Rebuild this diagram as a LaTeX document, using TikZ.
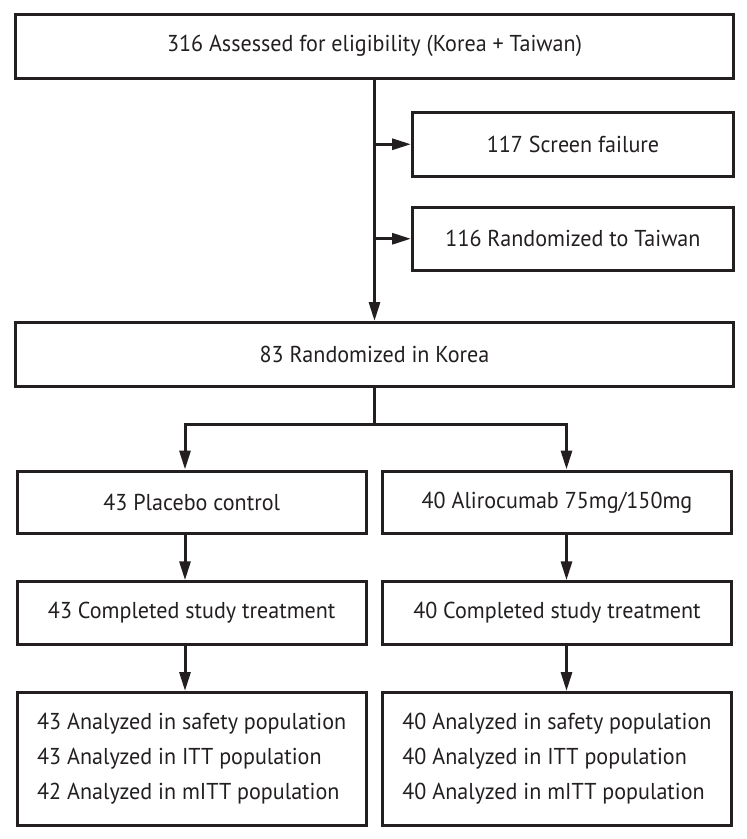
\documentclass[tikz,border=0pt]{standalone}
\usepackage{fontspec}
\setmainfont{PT Sans}[FakeStretch=0.96]
\usetikzlibrary{arrows.meta}
\definecolor{ink}{HTML}{231F20}
\begin{document}
\begin{tikzpicture}[x=1pt,y=-1pt,
  box/.style={draw=ink, line width=3pt, inner sep=0pt, text=ink,
    font=\fontsize{23}{35}\selectfont},
  arr/.style={draw=ink, line width=3pt, -{Triangle[length=19pt,width=11pt]}},
  ln/.style={draw=ink, line width=3pt}]
\useasboundingbox (0,0) rectangle (747,839);
\node[box, minimum width=718pt, minimum height=63.5pt] (top) at (374.5,46.25)
  {316 Assessed for eligibility (Korea + Taiwan)};
\node[box, minimum width=321pt, minimum height=63.5pt] (scr) at (573,144.25)
  {117 Screen failure};
\node[box, minimum width=321pt, minimum height=63.5pt] (tw) at (573,238.75)
  {116 Randomized to Taiwan};
\node[box, minimum width=718pt, minimum height=63.5pt] (kor) at (374.5,354.25)
  {83 Randomized in Korea};
\node[box, minimum width=349.5pt, minimum height=62.5pt] (plac) at (191.75,502.25)
  {43 Placebo control};
\node[box, minimum width=349pt, minimum height=62.5pt] (ali) at (557,502.25)
  {40 Alirocumab 75mg/150mg};
\node[box, minimum width=349.5pt, minimum height=62.5pt] (c1) at (191.75,613)
  {43 Completed study treatment};
\node[box, minimum width=349pt, minimum height=62.5pt] (c2) at (557,613)
  {40 Completed study treatment};
\node[box, minimum width=349.5pt, minimum height=132.5pt, align=left] (a1) at (191.75,758.75)
  {43 Analyzed in safety population\\43 Analyzed in ITT population\\42 Analyzed in mITT population};
\node[box, minimum width=349pt, minimum height=132.5pt, align=left] (a2) at (557,758.75)
  {40 Analyzed in safety population\\40 Analyzed in ITT population\\40 Analyzed in mITT population};
\coordinate (lft) at (185,424);
\coordinate (rgt) at (566.5,424);
\draw[arr] (top.south) -- (kor.north);
\draw[arr] (top.south |- scr.west) -- (scr.west);
\draw[arr] (top.south |- tw.west) -- (tw.west);
\draw[arr] (kor.south) |- (lft) -- (lft |- plac.north);
\draw[arr] (kor.south) |- (rgt) -- (rgt |- ali.north);
\draw[arr] (lft |- plac.south) -- (lft |- c1.north);
\draw[arr] (rgt |- ali.south) -- (rgt |- c2.north);
\draw[arr] (lft |- c1.south) -- (lft |- a1.north);
\draw[arr] (rgt |- c2.south) -- (rgt |- a2.north);
\end{tikzpicture}
\end{document}
